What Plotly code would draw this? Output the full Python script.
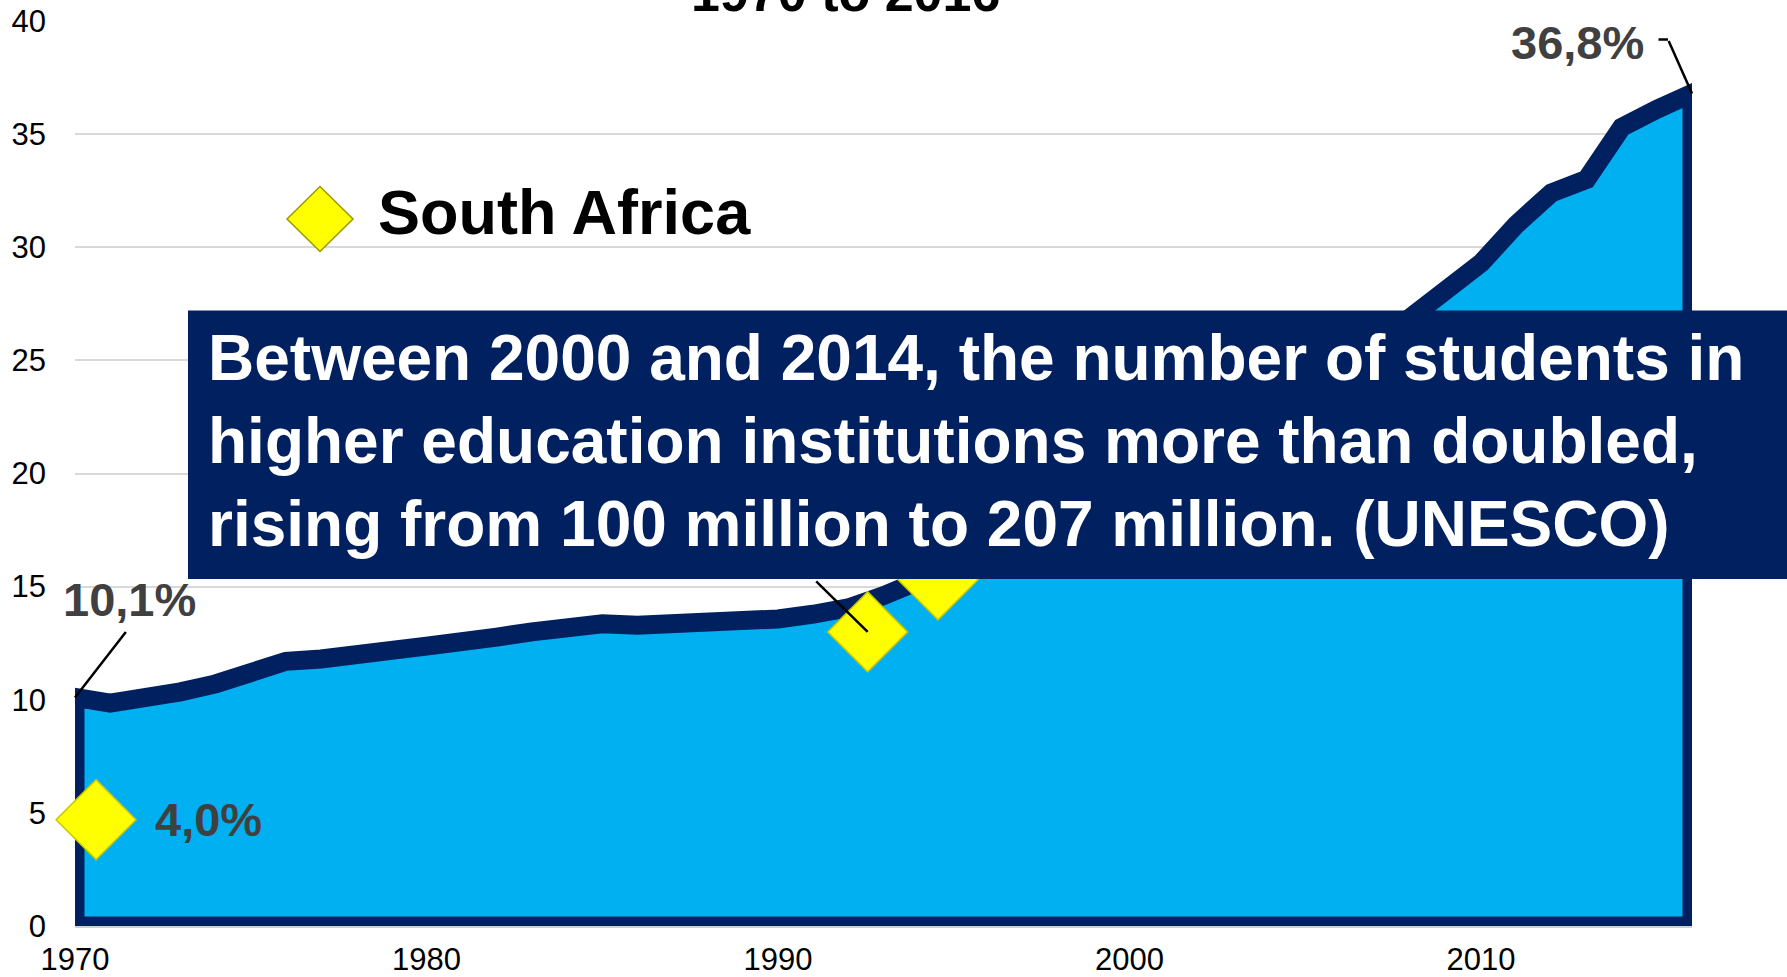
import plotly.graph_objects as go

# ---------------- data ----------------
years = list(range(1970, 2017))
world_ger = [10.1, 9.85, 10.05, 10.35, 10.7, 11.2, 11.7, 11.8, 12.08, 12.18,
             12.37, 12.67, 12.77, 13.0, 13.27, 13.36, 13.29, 13.36, 13.29, 13.39,
             13.57, 13.78, 14.06, 14.6, 15.3, 15.9, 16.4, 17.0, 17.7, 18.4,
             19.1, 20.3, 21.6, 22.8, 23.6, 24.3, 25.0, 25.9, 26.9, 28.0,
             29.3, 31.0, 32.4, 33.0, 35.3, 36.1, 36.8]

sa_years = [1970.6, 1992.55, 1994.55]
sa_ger = [4.7, 13.0, 15.3]

x_ticks = [1970, 1980, 1990, 2000, 2010]
y_ticks = [0, 5, 10, 15, 20, 25, 30, 35, 40]

title_text = "1970 to 2016"
legend_text = "South Africa"
first_label = "10,1%"
last_label = "36,8%"
sa_first_label = "4,0%"
box_text = ("Between 2000 and 2014, the number of students in<br>"
            "higher education institutions more than doubled,<br>"
            "rising from 100 million to 207 million. (UNESCO)")

# ---------------- styles ----------------
NAVY = "#002060"
BLUE = "#00B0F0"
YELLOW = "#FFFF00"
LABEL_GREY = "#404040"
FONT = "Liberation Sans, Arial, sans-serif"

W, H = 1787, 977
ML, MR, MT, MB = 75, 95, 21, 51
PW, PH = W - ML - MR, H - MT - MB


def px_x(p):
    return (p - ML) / PW


def px_y(p):
    return (H - MB - p) / PH


fig = go.Figure()

# area polygon (closed so the border runs along all sides, like the original)
poly_x = [years[0]] + years + [years[-1], years[0]]
poly_y = [0] + world_ger + [0, 0]
fig.add_trace(go.Scatter(
    x=poly_x, y=poly_y, mode="lines", fill="toself",
    fillcolor=BLUE, line=dict(color=NAVY, width=19),
    hoverinfo="skip", showlegend=False,
))

# South Africa diamonds
fig.add_trace(go.Scatter(
    x=sa_years, y=sa_ger, mode="markers",
    marker=dict(symbol="diamond", size=61.5, color=YELLOW,
                line=dict(color="#C8C800", width=1.5)),
    cliponaxis=False, showlegend=False, hoverinfo="skip",
))

shapes = []
# navy text box
shapes.append(dict(
    type="rect", xref="paper", yref="paper",
    x0=px_x(188), x1=px_x(W + 20), y0=px_y(579), y1=px_y(310.5),
    fillcolor=NAVY, line=dict(width=0), layer="above",
))
# legend key diamond
cx, cy, hw, hh = px_x(320), px_y(219), 33 / PW, 32.5 / PH
shapes.append(dict(
    type="path", xref="paper", yref="paper",
    path=f"M {cx - hw} {cy} L {cx} {cy + hh} L {cx + hw} {cy} L {cx} {cy - hh} Z",
    fillcolor=YELLOW, line=dict(color="#999900", width=1.5), layer="above",
))

annotations = []
# title (partly cut off at top, as in the original)
annotations.append(dict(
    text=f"<b>{title_text}</b>", xref="paper", yref="paper",
    x=px_x(845.5), y=px_y(-6.9), xanchor="center", yanchor="middle",
    showarrow=False, font=dict(family=FONT, size=52, color="#000000"),
))
# legend text
annotations.append(dict(
    text=f"<b>{legend_text}</b>", xref="paper", yref="paper",
    x=px_x(376), y=px_y(212), xanchor="left", yanchor="middle",
    showarrow=False, font=dict(family=FONT, size=63, color="#000000"),
))
# box text
annotations.append(dict(
    text=f"<b>{box_text}</b>", xref="paper", yref="paper",
    x=px_x(205.5), y=px_y(441.2), xanchor="left", yanchor="middle", align="left",
    showarrow=False, font=dict(family=FONT, size=64, color="#FFFFFF"),
))

# data labels
annotations.append(dict(
    text=f"<b>{first_label}</b>", x=years[0], y=world_ger[0], xref="x", yref="y",
    xshift=54, yshift=98, showarrow=False, xanchor="center", yanchor="middle",
    font=dict(family=FONT, size=47, color=LABEL_GREY),
))
annotations.append(dict(
    text="", x=years[0], y=world_ger[0], xref="x", yref="y",
    ax=52, ay=-67, showarrow=True, arrowhead=0, arrowwidth=2.5, arrowcolor="#000000",
))
annotations.append(dict(
    text=f"<b>{last_label}</b>", x=years[-1], y=world_ger[-1], xref="x", yref="y",
    xshift=-115, yshift=51, showarrow=False, xanchor="center", yanchor="middle",
    font=dict(family=FONT, size=47, color=LABEL_GREY),
))
annotations.append(dict(
    text="", x=years[-1], y=world_ger[-1], xref="x", yref="y",
    ax=-24, ay=-54, showarrow=True, arrowhead=0, arrowwidth=2.5, arrowcolor="#000000",
))
annotations.append(dict(
    text="", x=years[-1], y=world_ger[-1], xref="x", yref="y",
    xshift=-24, yshift=54, ax=-11, ay=0,
    showarrow=True, arrowhead=0, arrowwidth=2.5, arrowcolor="#000000",
))
annotations.append(dict(
    text=f"<b>{sa_first_label}</b>", x=sa_years[0], y=sa_ger[0], xref="x", yref="y",
    xshift=112, yshift=0, showarrow=False, xanchor="center", yanchor="middle",
    font=dict(family=FONT, size=47, color=LABEL_GREY),
))
annotations.append(dict(
    text="", x=sa_years[1], y=sa_ger[1], xref="x", yref="y",
    ax=-53, ay=-52, showarrow=True, arrowhead=0, arrowwidth=2.5, arrowcolor="#000000",
))

fig.update_layout(
    width=W, height=H,
    margin=dict(l=ML, r=MR, t=MT, b=MB, pad=0, autoexpand=False),
    paper_bgcolor="#FFFFFF", plot_bgcolor="#FFFFFF",
    showlegend=False,
    font=dict(family=FONT, size=31, color="#000000"),
    shapes=shapes, annotations=annotations,
    xaxis=dict(range=[years[0], years[-1]], tickmode="array", tickvals=x_ticks,
               ticktext=[str(v) for v in x_ticks], showgrid=False, zeroline=False,
               showline=True, linecolor="#D0D0D0", linewidth=1.5,
               ticks="", ticklabelstandoff=5, automargin=False,
               tickfont=dict(family=FONT, size=31, color="#000000")),
    yaxis=dict(range=[0, 40], tickmode="array", tickvals=y_ticks,
               showgrid=True, gridcolor="#D9D9D9", gridwidth=1.5, zeroline=False,
               showline=False, ticks="", ticklabelstandoff=28, automargin=False,
               tickfont=dict(family=FONT, size=31, color="#000000")),
)

fig.write_html("out.html",
               config={"displayModeBar": False},
               post_script="document.body.style.margin='0';document.body.style.padding='0';")
